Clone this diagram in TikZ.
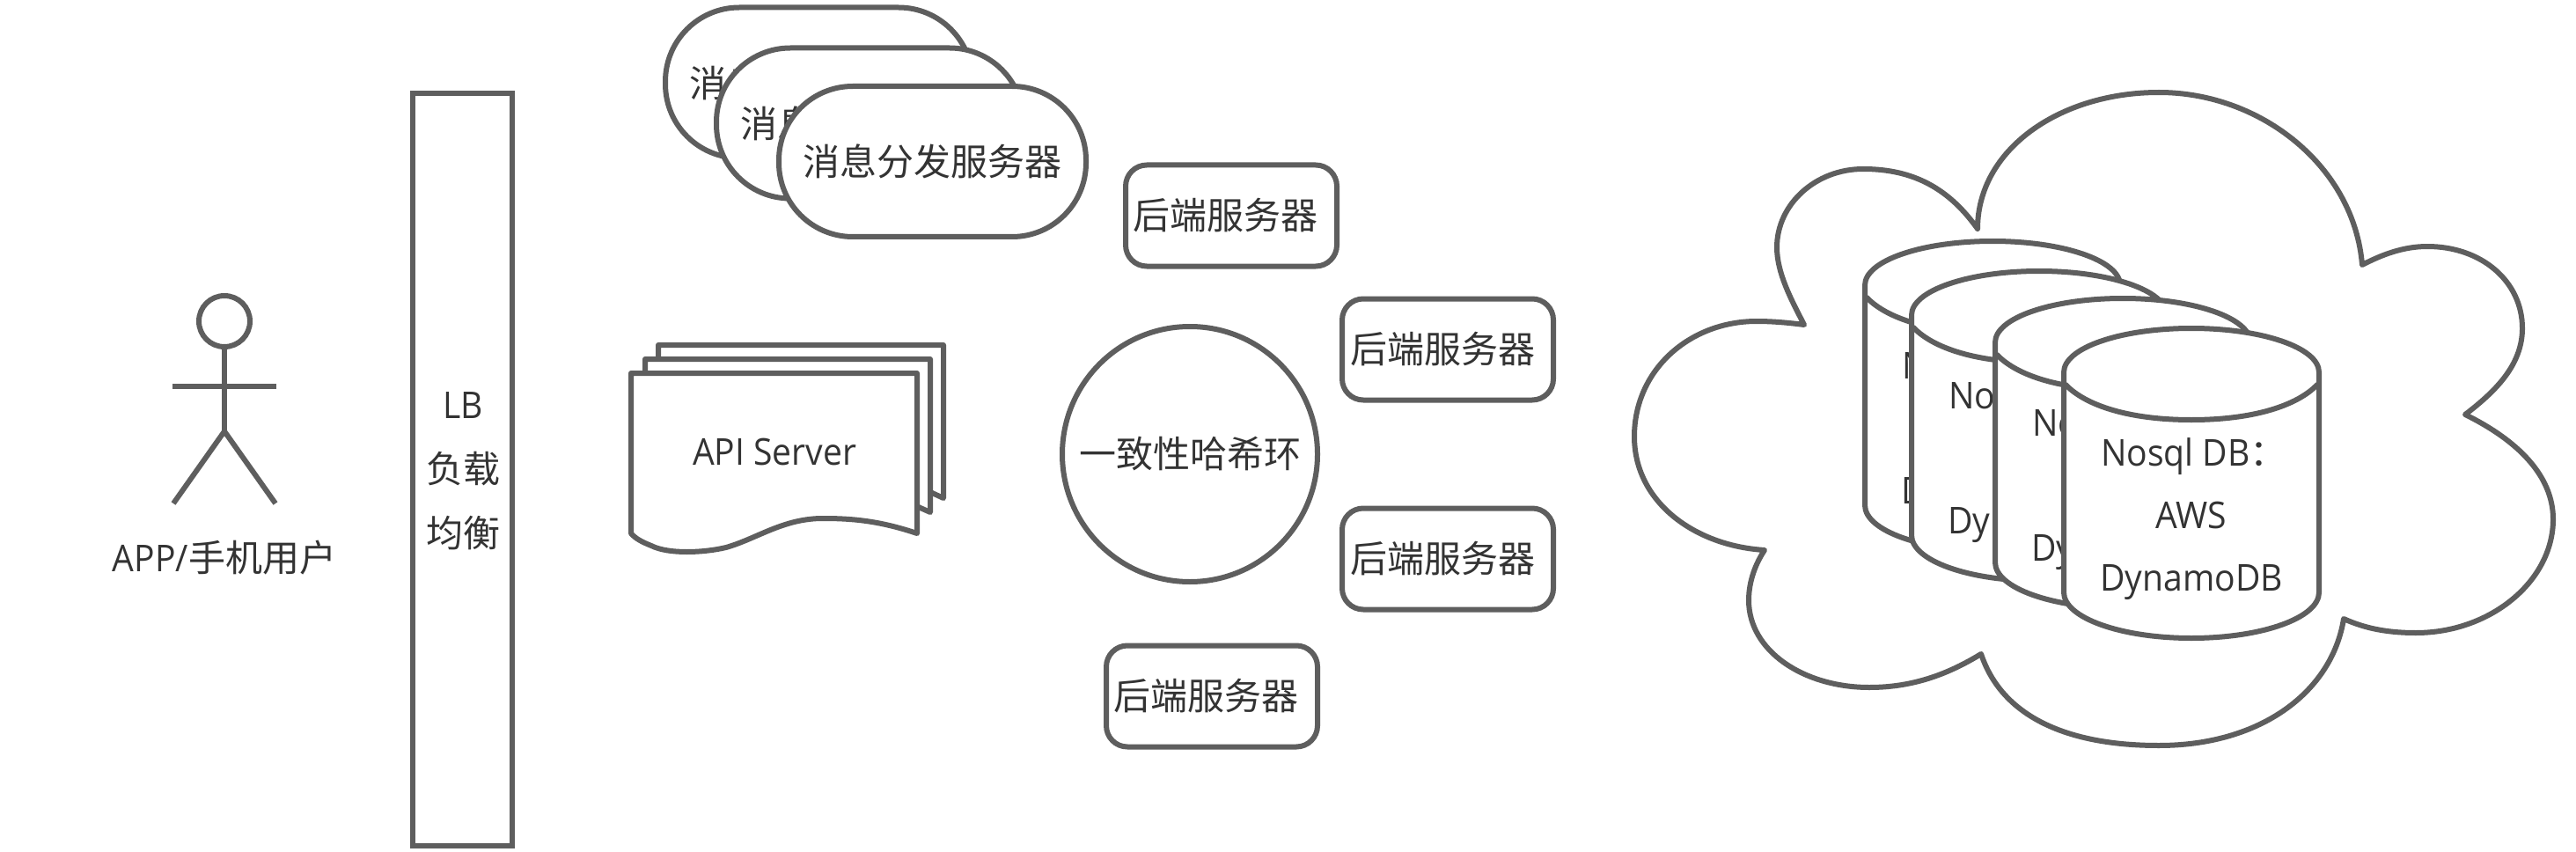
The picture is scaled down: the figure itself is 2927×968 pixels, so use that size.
\documentclass[tikz,border=0pt]{standalone}
\usepackage{fontspec}
\setmainfont[FakeStretch=0.93]{Open Sans}
\newfontfamily\cjk{Noto Sans CJK SC}
\definecolor{ln}{HTML}{5E5E5E}
\definecolor{tx}{HTML}{333333}
\tikzset{
  every node/.style={text=tx,font=\fontsize{21}{35.5}\selectfont,inner sep=0pt},
  cjkt/.style={font=\cjk\fontsize{21}{35.5}\selectfont},
  shp/.style={draw=ln,fill=white,line width=3pt},
  lbl/.style={align=center},
  stadium/.style={shp,cjkt,rectangle,rounded corners=42pt,minimum width=174.5pt,minimum height=85.5pt},
  backend/.style={shp,cjkt,rectangle,rounded corners=12pt,minimum width=120pt,minimum height=57.5pt},
  stick/.style={draw=ln,line width=3pt},
}
\newcommand{\dbcyl}[4]{%
  \begin{scope}[shift={(#1,#2)}]
    \path[shp,line join=round] (-145,0) .. controls (-145,-28) and (-80,-50) .. (0,-50)
      .. controls (80,-50) and (145,-28) .. (145,0) -- (145,250)
      .. controls (145,279) and (80,302) .. (0,302)
      .. controls (-80,302) and (-145,279) .. (-145,250) -- cycle;
    \draw[stick,line cap=round] (-143,14) .. controls (-120,38) and (-70,54) .. (0,54)
      .. controls (70,54) and (120,38) .. (143,14);
    \node[lbl] (#3) at (0,#4) {\kern3pt Nosql DB{\cjk ：}\\AWS\\DynamoDB};
  \end{scope}}
\begin{document}
\begin{tikzpicture}[x=0.5pt,y=-0.5pt,line join=miter]
\path[fill=white,use as bounding box] (0,0) rectangle (2927,968);

% actor
\node[stick,circle,minimum size=29pt] (head) at (255,365) {};
\coordinate (hip) at (255,490);
\coordinate (armL) at (196,439);
\coordinate (armR) at (314,439);
\coordinate (legL) at (197,572);
\coordinate (legR) at (313,572);
\draw[stick] (head.south) -- (hip);
\draw[stick] (armL) -- (armR);
\draw[stick] (legL) -- (hip) -- (legR);
\node (user) at (255,634) {APP/{\cjk 手机用户}};

% load balancer
\node[shp,rectangle,minimum width=56.5pt,minimum height=427.5pt] (lb) at (525.5,533.5) {};
\node[lbl] (lbtext) at (526,535) {LB\\[1pt]{\cjk 负载}\\[1pt]{\cjk 均衡}};

% dispatch servers
\node[stadium] (s1) at (930.5,94) {消息分发服务器};
\node[stadium] (s2) at (988.5,140) {消息分发服务器};
\node[stadium] (s3) at (1059.5,183.5) {消息分发服务器};

% api server stack
\path[shp,line join=round] (748,424) -- (748,392) -- (1072,392) -- (1072,566) -- (1042,552) -- cycle;
\path[shp,line join=round] (733,440) -- (733,408) -- (1057,408) -- (1057,582) -- (1030,570) -- cycle;
\path[shp,line join=round] (717,424) -- (1042,424) -- (1042,606)
  .. controls (1000,592) and (970,589) .. (935,589)
  .. controls (890,589) and (860,612) .. (825,622)
  .. controls (800,628) and (760,630) .. (740,620)
  .. controls (730,616) and (722,612) .. (717,606) -- cycle;
\node (api) at (880,513) {API Server};

% hash ring and backends
\node[shp,cjkt,circle,minimum size=145pt] (ring) at (1352,516) {一致性哈希环};
\node[backend] (b1) at (1399,245) {后端服务器\kern7pt};
\node[backend] (b2) at (1645,397) {后端服务器\kern6pt};
\node[backend] (b3) at (1645,635) {后端服务器\kern6pt};
\node[backend] (b4) at (1377,791) {后端服务器\kern7pt};

% cloud
\path[shp,line join=round] (2050,369)
  .. controls (2035,340) and (2019,310) .. (2019,281)
  .. controls (2019,232) and (2063,192) .. (2117,192)
  .. controls (2175,192) and (2215,215) .. (2247,260)
  .. controls (2247,170) and (2340,105) .. (2453,105)
  .. controls (2570,105) and (2675,190) .. (2684,301)
  .. controls (2705,290) and (2730,280) .. (2758,280)
  .. controls (2820,280) and (2866,320) .. (2866,373)
  .. controls (2866,415) and (2835,445) .. (2801,471)
  .. controls (2860,500) and (2901,540) .. (2901,590)
  .. controls (2901,660) and (2830,719) .. (2745,719)
  .. controls (2710,719) and (2685,713) .. (2663,703)
  .. controls (2650,785) and (2570,847) .. (2453,847)
  .. controls (2350,847) and (2275,815) .. (2251,743)
  .. controls (2215,765) and (2175,781) .. (2124,781)
  .. controls (2050,781) and (1987,740) .. (1987,682)
  .. controls (1987,660) and (1995,640) .. (2005,625)
  .. controls (1925,620) and (1857,570) .. (1857,496)
  .. controls (1857,420) and (1920,365) .. (1996,365)
  .. controls (2015,365) and (2035,367) .. (2050,369) -- cycle;

% databases
\dbcyl{2264}{324}{d1}{167}
\dbcyl{2317}{358}{d2}{167}
\dbcyl{2412}{389}{d3}{167}
\dbcyl{2490}{423}{d4}{167}
\end{tikzpicture}
\end{document}
